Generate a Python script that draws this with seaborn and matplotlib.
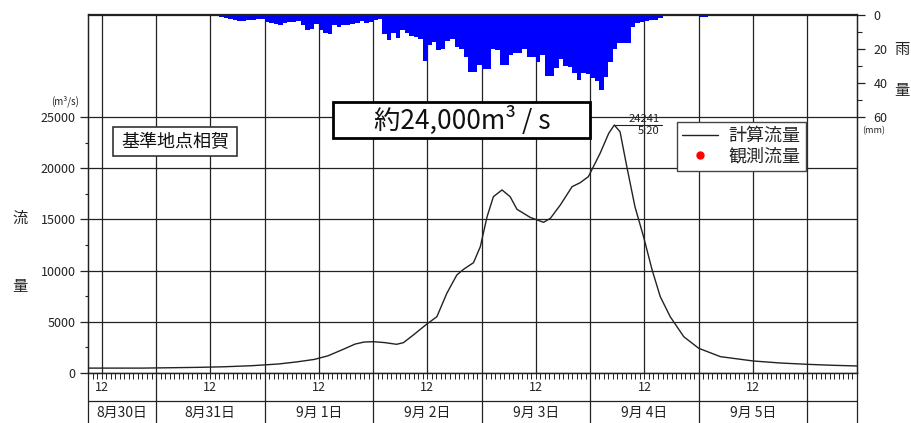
import numpy as np
import pandas as pd
import matplotlib
matplotlib.use("Agg")
import matplotlib.pyplot as plt
from matplotlib.lines import Line2D
from matplotlib.patches import Rectangle
from matplotlib.ticker import FixedLocator
import seaborn as sns

# Time axis: hours counted from 8/30 09:00 to 9/6 11:00
START_HOUR = 9
TOTAL_HOURS = 170

# Hourly basin rainfall (mm), one value per hour from the start
rain_mm = [
    0, 0, 0, 0, 0, 0, 0, 0, 0, 0, 0,
    0.5, 0.6, 0.5, 0.6, 0.7, 0.6, 0.5, 0.6, 0.7, 0.6, 0.7, 0.7, 0.7,
    0.8, 0.8, 0.9, 1.0, 1.1, 1.4, 1.8, 2.6, 3.4, 3.8,
    3.8, 3.3, 3.0, 2.6, 2.4,
    4.6, 5.2, 5.4, 5.9, 5.2, 4.6, 4.4, 3.6, 6.1, 9.0,
    8.3, 5.5, 9.0, 10.6, 11.4, 6.3, 7.1, 6.1, 5.9, 5.5,
    5.2, 4.0, 4.8, 4.4, 3.2, 2.8, 11.4, 14.9, 10.6, 13.7,
    9.0, 10.6, 12.6, 13.3, 14.1, 27.1, 18.0, 16.0, 20.7, 20.3,
    15.3, 14.5, 19.2, 20.3, 24.6, 33.6, 33.6, 29.3, 31.6, 31.6,
    20.1, 20.7, 29.5, 29.5, 23.6, 22.3, 22.3, 20.3, 24.6, 24.6,
    27.5, 23.6, 35.9, 35.9, 31.4, 26.2, 30.1, 30.4, 34.3, 38.2,
    33.9, 34.9, 37.3, 38.6, 44.1, 36.3, 27.5, 20.3, 16.4, 16.4,
    16.4, 7.5, 4.8, 4.4, 3.6, 3.2, 3.2, 2.1, 0.9, 0.8,
    0.7, 0.6, 0.5, 0.5, 0.4, 0.5, 1.2, 1.3, 1.0, 0.5,
    0.4, 0.3, 0.3, 0.2, 0.2, 0.1, 0.1, 0.1, 0.4, 0.5,
    0.4, 0.3, 0.4, 0.5, 0.4, 0.3, 0.1, 0.1, 0.1, 0.1,
    0.1, 0.1, 0, 0, 0, 0, 0, 0, 0, 0, 0,
]

# Calculated discharge (m3/s) at the reference point
flow_hours = [0, 12, 24, 30, 36, 42, 46, 50, 53, 56.4, 59, 61, 63, 65.5, 68.2,
              69.7, 71.9, 74.9, 77.1, 79.3, 81.5, 83, 85.2, 86.7, 88.2, 89.6,
              91.5, 93.3, 94.8, 97.7, 100.7, 102.2, 104.4, 107, 108.8, 110.6,
              113.2, 115.1, 116.33, 117.6, 119.1, 120.9, 122.8, 124.7, 126.5,
              128.7, 131.7, 135, 139.8, 147, 153, 159, 165, 170]
flow_m3s = [450, 450, 520, 580, 680, 850, 1050, 1300, 1650, 2290, 2800, 3000,
            3035, 2950, 2780, 2940, 3690, 4770, 5480, 7770, 9560, 10120, 10770,
            12330, 15270, 17230, 17890, 17230, 16000, 15210, 14720, 15110,
            16420, 18210, 18600, 19190, 21480, 23430, 24241, 23590, 20170,
            16250, 13310, 10050, 7440, 5480, 3520, 2390, 1570, 1150, 950, 820,
            720, 660]
peak_time_label = "5:20"

day_labels = ["8月30日", "8月31日", "9月 1日", "9月 2日", "9月 3日",
              "9月 4日", "9月 5日", ""]
flow_ticks = [0, 5000, 10000, 15000, 20000, 25000]
rain_ticks = [0, 20, 40, 60]

sns.set_style("white")
plt.rcParams["font.family"] = ["Noto Sans CJK JP", "DejaVu Sans"]

W, H = 911, 423
fig = plt.figure(figsize=(W / 100, H / 100), dpi=100)


def fx(px):
    return px / W


def fy(py):
    return 1 - py / H


LEFT, RIGHT, TOP, ZERO = 88.2, 857.0, 14.5, 372.7
INK = "#222222"

ax = fig.add_axes([fx(LEFT), fy(ZERO), fx(RIGHT) - fx(LEFT), (ZERO - TOP) / H])
axd = fig.add_axes([fx(LEFT), 0, fx(RIGHT) - fx(LEFT), (H - ZERO) / H])

# discharge hydrograph
sns.lineplot(x=flow_hours, y=flow_m3s, ax=ax, color=INK, linewidth=1.0)
ax.set_xlim(0, TOTAL_HOURS)
ax.set_ylim(0, 25000 * (ZERO - TOP) / (ZERO - 117.3))
ax.set_yticks(flow_ticks)
ax.yaxis.set_minor_locator(FixedLocator([t + 2500 for t in flow_ticks[:-1]]))

half_day = list(range(24 - START_HOUR - 12, TOTAL_HOURS + 1, 12))
ax.set_xticks(half_day)
ax.set_xticklabels(["12" if (h + START_HOUR) % 24 == 12 else "" for h in half_day])
ax.xaxis.set_minor_locator(FixedLocator(list(range(0, TOTAL_HOURS + 1))))
ax.grid(True, which="major", color=INK, linewidth=0.9)
ax.tick_params(axis="x", which="both", direction="out", length=4, width=0.7,
               colors=INK, labelsize=9, pad=2, bottom=True)
ax.tick_params(axis="y", which="major", direction="out", length=6, width=0.9,
               colors=INK, labelsize=9, pad=3, left=True)
ax.tick_params(axis="y", which="minor", direction="out", length=2.5, width=0.8,
               colors=INK, left=True)
for s in ax.spines.values():
    s.set_color(INK)
    s.set_linewidth(0.9)
ax.set_xlabel("")
ax.set_ylabel("")

# peak annotation
ipk = int(np.argmax(flow_m3s))
pk_h, pk_v = flow_hours[ipk], flow_m3s[ipk]
ax.plot([pk_h, pk_h + 10.5], [pk_v, pk_v], color=INK, linewidth=0.8)
ax.text(pk_h + 10, pk_v + 100, f"{pk_v}", ha="right", va="bottom", fontsize=8,
        color=INK)
ax.text(pk_h + 10, pk_v - 50, peak_time_label, ha="right", va="top",
        fontsize=8, color=INK)

# hourly rainfall hanging from the top
rain_df = pd.DataFrame({"hour": np.arange(len(rain_mm)) + 0.5,
                        "rain": np.asarray(rain_mm, dtype=float)})
ax2 = ax.twinx()
sns.histplot(data=rain_df, x="hour", weights="rain",
             binwidth=1, binrange=(0, TOTAL_HOURS), element="step", fill=True,
             color="#0000FF", alpha=1, ax=ax2)
for coll in ax2.collections:
    coll.set_linewidth(0)
for ln in ax2.lines:
    ln.set_linewidth(0)
ax2.set_ylim(60 * (ZERO - TOP) / (117.3 - TOP), 0)
ax2.set_yticks(rain_ticks)
ax2.yaxis.set_minor_locator(FixedLocator([10, 30, 50]))
ax2.tick_params(axis="y", which="major", direction="out", length=6, width=0.9,
                colors=INK, labelsize=9, pad=6, right=True)
ax2.tick_params(axis="y", which="minor", direction="out", length=3.5, width=0.8,
                colors=INK, right=True)
ax2.set_ylabel("")
ax2.grid(False)
for s in ax2.spines.values():
    s.set_color(INK)
    s.set_linewidth(0.9)

# date table under the time axis
axd.set_xlim(0, TOTAL_HOURS)
axd.set_ylim(0, 1)
axd.patch.set_visible(False)
axd.set_xticks([])
axd.set_yticks([])
axd.spines["top"].set_visible(False)
axd.spines["bottom"].set_visible(False)
for side in ("left", "right"):
    axd.spines[side].set_color(INK)
    axd.spines[side].set_linewidth(0.9)
day_edges = [0] + list(range(24 - START_HOUR, TOTAL_HOURS, 24)) + [TOTAL_HOURS]
axd.vlines(day_edges[1:-1], 0, 1, color=INK, linewidth=0.9)
axd.axhline((H - 401) / (H - ZERO), color=INK, linewidth=0.9)
for a, b, lab in zip(day_edges[:-1], day_edges[1:], day_labels):
    axd.text((a + b) / 2, (H - 413) / (H - ZERO), lab, ha="center",
             va="center", fontsize=10, color=INK)

# axis captions
fig.text(fx(65), fy(101), "(m³/s)", ha="center", va="center", fontsize=7,
         color=INK)
fig.text(fx(20), fy(218), "流", ha="center", va="center", fontsize=11, color=INK)
fig.text(fx(20), fy(287), "量", ha="center", va="center", fontsize=11, color=INK)
fig.text(fx(902), fy(49), "雨", ha="center", va="center", fontsize=11, color=INK)
fig.text(fx(902), fy(90), "量", ha="center", va="center", fontsize=11, color=INK)
fig.text(fx(874), fy(131), "(mm)", ha="center", va="center", fontsize=6.5,
         color=INK)

# station name box
fig.add_artist(Rectangle((fx(113), fy(156)), (237 - 113) / W, (156 - 127.3) / H,
                         transform=fig.transFigure, facecolor="white",
                         edgecolor="#333333", linewidth=1.2, zorder=2))
fig.text(fx(175), fy(141.7), "基準地点相賀", ha="center", va="center",
         fontsize=13, color="#111111", zorder=3)

# headline box
fig.add_artist(Rectangle((fx(333), fy(138.3)), (590 - 333) / W, (138.3 - 101.7) / H,
                         transform=fig.transFigure, facecolor="white",
                         edgecolor="black", linewidth=2, zorder=2))
fig.text(fx(462), fy(120), "約24,000m³ / s", ha="center", va="center",
         fontsize=19, color="#111111", zorder=3)

# legend
handles = [Line2D([], [], color=INK, linewidth=1.0),
           Line2D([], [], color="red", marker="o", linestyle="none",
                  markersize=5)]
fig.legend(handles, ["計算流量", "観測流量"], loc="upper left",
           bbox_to_anchor=(fx(676.7), fy(122)), frameon=True, fancybox=False,
           edgecolor="#444444", framealpha=1, fontsize=13, borderaxespad=0,
           handlelength=2.0, handletextpad=0.6, labelspacing=0.15,
           borderpad=0.28)

fig.savefig("out.png", dpi=100)
